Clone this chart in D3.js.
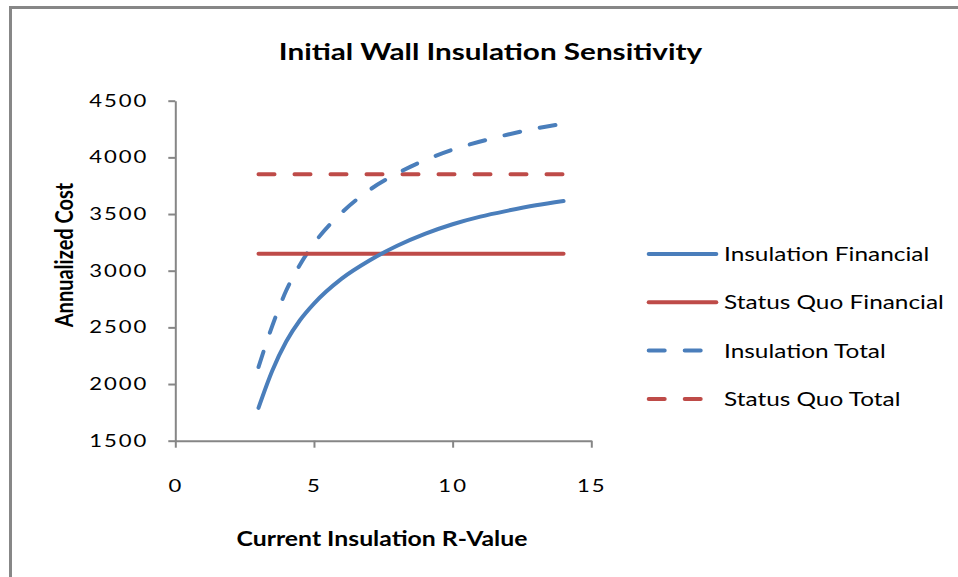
<!DOCTYPE html>
<html>
<head>
<meta charset="utf-8">
<title>Initial Wall Insulation Sensitivity</title>
<script src="https://cdn.jsdelivr.net/npm/d3@7"></script>
<style>
    body { margin: 0; background: #fff; }
    text { font-family: Lato, "Open Sans", sans-serif; fill: #000; }
    .axis path, .axis line { fill: none; stroke: #868686; stroke-width: 2; }
    .axis text { font-size: 17px; letter-spacing: 1.5px; }
    .series { fill: none; stroke-width: 4; stroke-linecap: round; }
</style>
</head>
<body>
<svg width="958" height="577"></svg>
<script>
// R-values the insulation curves were read at
var rValues = [3, 3.5, 4, 4.5, 5, 6, 7, 8, 9, 10, 11, 12, 13, 14];
var insulationFinancial = [1790, 2120, 2375, 2565, 2710, 2930, 3090, 3220, 3325, 3410, 3477, 3530, 3577, 3615];
var insulationTotal = [2150, 2515, 2825, 3055, 3240, 3512, 3712, 3858, 3975, 4068, 4140, 4202, 4255, 4296];

// status quo is flat across the whole range
var statusQuoR = [3, 14];
var statusQuoFinancial = [3150, 3150];
var statusQuoTotal = [3850, 3850];

var seriesNames = ["Insulation Financial", "Status Quo Financial", "Insulation Total", "Status Quo Total"];
var xTicks = [0, 5, 10, 15];
var yTicks = [1500, 2000, 2500, 3000, 3500, 4000, 4500];

var blue = "#4a7ebb", red = "#be4b48";

var svg = d3.select("svg");

// the source picture is stretched sideways, so widen text to match
function stretch(sel, s) {
    sel.each(function() {
        var t = d3.select(this);
        var tx = +t.attr("x") || 0, ty = +t.attr("y") || 0;
        t.attr("x", null).attr("y", null)
            .attr("transform", "translate(" + tx + "," + ty + ") scale(" + s + ",1)");
    });
}

// outer frame (runs off the right and bottom edges)
svg.append("rect")
    .attr("x", 10.5).attr("y", 7.5)
    .attr("width", 1000).attr("height", 600)
    .attr("fill", "#fff")
    .attr("stroke", "#878787")
    .attr("stroke-width", 3);

var margin = {top: 100.7, left: 175.3},
    width = 416,
    height = 340;

var x = d3.scaleLinear().domain([0, 15]).range([0, width]);
var y = d3.scaleLinear().domain([1500, 4500]).range([height, 0]);

var g = svg.append("g")
    .attr("transform", "translate(" + margin.left + "," + margin.top + ")");

// axes
var yAxis = g.append("g")
    .attr("class", "axis")
    .call(d3.axisLeft(y).tickValues(yTicks).tickFormat(d3.format("d"))
        .tickSize(7).tickSizeOuter(0).tickPadding(20));
stretch(yAxis.selectAll("text"), 1.3);

var xAxis = g.append("g")
    .attr("class", "axis")
    .attr("transform", "translate(0," + height + ")")
    .call(d3.axisBottom(x).tickValues(xTicks).tickFormat(d3.format("d"))
        .tickSize(7).tickSizeOuter(0).tickPadding(32));
stretch(xAxis.selectAll("text"), 1.3);

// series
function makeLine(xs, ys) {
    return d3.line()
        .x(function(d, i) { return x(xs[i]); })
        .y(function(d) { return y(d); })
        .curve(d3.curveMonotoneX)(ys);
}

var series = [
    {xs: rValues, ys: insulationFinancial, color: blue, dash: null},
    {xs: statusQuoR, ys: statusQuoFinancial, color: red, dash: null},
    {xs: rValues, ys: insulationTotal, color: blue, dash: "16,20"},
    {xs: statusQuoR, ys: statusQuoTotal, color: red, dash: "16,20"}
];

// dashed ones first so the solid lines sit on top
[3, 2, 1, 0].forEach(function(i) {
    var s = series[i];
    g.append("path")
        .attr("class", "series")
        .attr("d", makeLine(s.xs, s.ys))
        .attr("stroke", s.color)
        .attr("stroke-dasharray", s.dash);
});

// title
var title = svg.append("text")
    .attr("x", 490.5).attr("y", 60)
    .attr("text-anchor", "middle")
    .style("font-size", "23px")
    .style("font-weight", "bold")
    .text("Initial Wall Insulation Sensitivity");
stretch(title, 1.29);

// axis titles
var xTitle = svg.append("text")
    .attr("x", 382).attr("y", 546)
    .attr("text-anchor", "middle")
    .style("font-size", "21px")
    .style("font-weight", "bold")
    .text("Current Insulation R-Value");
stretch(xTitle, 1.18);

svg.append("text")
    .attr("transform", "translate(72.5,255) scale(1.22,1) rotate(-90)")
    .attr("text-anchor", "middle")
    .style("font-size", "20px")
    .style("font-weight", "bold")
    .text("Annualized Cost");

// legend
var legend = svg.append("g").attr("transform", "translate(648.7,254)");
var item = legend.selectAll("g")
    .data(series)
    .join("g")
    .attr("transform", function(d, i) { return "translate(0," + (i * 48.3) + ")"; });

item.append("line")
    .attr("class", "series")
    .attr("x1", 0).attr("x2", 67.6)
    .attr("stroke", function(d) { return d.color; })
    .attr("stroke-dasharray", function(d) { return d.dash; });

var legendText = item.append("text")
    .attr("x", 75.3)
    .attr("y", 7)
    .style("font-size", "20px")
    .text(function(d, i) { return seriesNames[i]; });
stretch(legendText, 1.22);
</script>
</body>
</html>
